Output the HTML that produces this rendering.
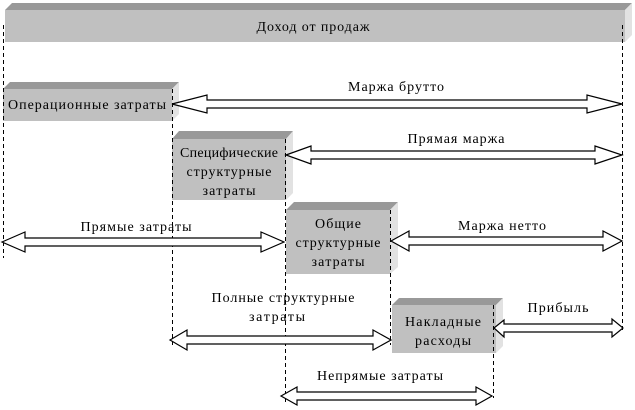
<!DOCTYPE html>
<html><head><meta charset="utf-8"><style>
html,body{margin:0;padding:0;background:#fff}
svg{display:block}
text{font-family:"Liberation Serif","DejaVu Serif",serif;font-size:14px;fill:#000}
</style></head><body>
<svg width="635" height="410" viewBox="0 0 635 410" xmlns="http://www.w3.org/2000/svg">
<g stroke="none">
<polygon points="5,10 12,3 632,3 625,10" fill="#999"/>
<polygon points="625,10 632,3 632,35 625,42" fill="#e2e2e2"/>
<rect x="5" y="10" width="620" height="32" fill="#c0c0c0"/>
<polygon points="3,89 10,82 179,82 172,89" fill="#999"/>
<polygon points="172,89 179,82 179,114 172,121" fill="#e2e2e2"/>
<rect x="3" y="89" width="169" height="32" fill="#c0c0c0"/>
<polygon points="172,139 179,131 293,131 286,139" fill="#999"/>
<polygon points="286,139 293,131 293,193 286,200" fill="#e2e2e2"/>
<rect x="172" y="139" width="114" height="61" fill="#c0c0c0"/>
<polygon points="286,210 294,202 398,202 390,210" fill="#999"/>
<polygon points="390,210 398,202 398,267 390,274" fill="#e2e2e2"/>
<rect x="286" y="210" width="104" height="64" fill="#c0c0c0"/>
<polygon points="392,305 399,298 503,298 496,305" fill="#999"/>
<polygon points="496,305 503,298 503,346 496,353" fill="#e2e2e2"/>
<rect x="392" y="305" width="104" height="48" fill="#c0c0c0"/>
</g>
<g stroke="#000" stroke-width="1" stroke-dasharray="4,3" fill="none">
<line x1="3.5" y1="25" x2="3.5" y2="258"/>
<line x1="172.5" y1="89" x2="172.5" y2="345"/>
<line x1="285.5" y1="139" x2="285.5" y2="405"/>
<line x1="390.5" y1="210" x2="390.5" y2="345"/>
<line x1="493.5" y1="305" x2="493.5" y2="398"/>
<line x1="622.5" y1="25" x2="622.5" y2="332"/>
</g>
<g fill="#fff" stroke="#000" stroke-width="1.2">
<path d="M172,104 L207,95 L207,100 L587,100 L587,95 L622,104 L587,113 L587,108 L207,108 L207,113 Z"/>
<path d="M286,155 L311,146 L311,151 L595,151 L595,146 L622,155 L595,164 L595,159 L311,159 L311,164 Z"/>
<path d="M2,242 L25,232 L25,238 L261,238 L261,232 L284,242 L261,252 L261,246 L25,246 L25,252 Z"/>
<path d="M391,241 L409,231 L409,237 L603,237 L603,231 L622,241 L603,251 L603,245 L409,245 L409,251 Z"/>
<path d="M170,340 L187,330 L187,336 L373,336 L373,330 L391,340 L373,350 L373,344 L187,344 L187,350 Z"/>
<path d="M494,328 L504,320 L504,324 L612,324 L612,319 L623,328 L612,337 L612,332 L504,332 L504,337 Z"/>
<path d="M281,396 L297,387 L297,392 L476,392 L476,387 L492,396 L476,405 L476,400 L297,400 L297,405 Z"/>
</g>
<g text-anchor="middle" lengthAdjust="spacing">
<text x="313" y="31" textLength="113">Доход от продаж</text>
<text x="87" y="109" textLength="158">Операционные затраты</text>
<text x="229" y="157" textLength="98">Специфические</text>
<text x="229" y="176" textLength="85">структурные</text>
<text x="229" y="195" textLength="53">затраты</text>
<text x="338" y="228" textLength="46">Общие</text>
<text x="338" y="247" textLength="85">структурные</text>
<text x="338" y="266" textLength="53">затраты</text>
<text x="443" y="326" textLength="76">Накладные</text>
<text x="443" y="345" textLength="56">расходы</text>
<text x="396" y="91" textLength="96">Маржа брутто</text>
<text x="456" y="143" textLength="97">Прямая маржа</text>
<text x="136" y="231" textLength="111">Прямые затраты</text>
<text x="502" y="230" textLength="88">Маржа нетто</text>
<text x="283" y="302" textLength="143">Полные структурные</text>
<text x="277" y="321" textLength="56">затраты</text>
<text x="558" y="312" textLength="61">Прибыль</text>
<text x="380" y="380" textLength="126">Непрямые затраты</text>
</g>
</svg>
</body></html>
